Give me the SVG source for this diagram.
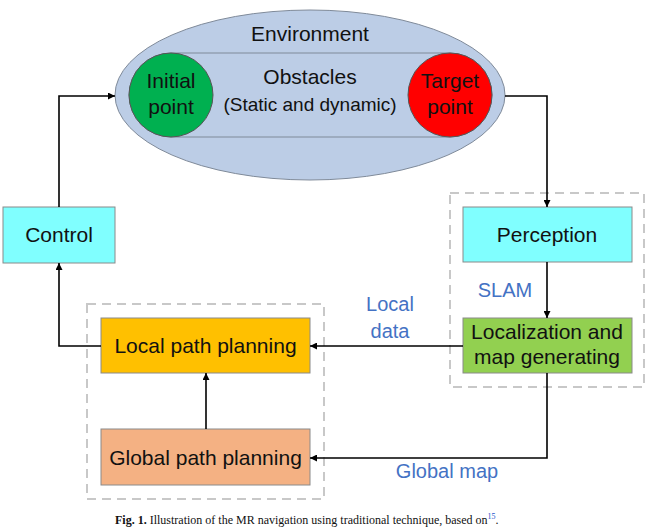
<svg xmlns="http://www.w3.org/2000/svg" width="649" height="529" viewBox="0 0 649 529">
<defs>
<marker id="arr" viewBox="0 0 10 10" refX="10" refY="5" markerWidth="7" markerHeight="7" markerUnits="userSpaceOnUse" orient="auto">
<path d="M0,0 L10,5 L0,10 z" fill="#000"/>
</marker>
<style>
.t{font-family:"Liberation Sans",Arial,sans-serif;font-size:21px;fill:#111;text-anchor:middle}
.b{font-family:"Liberation Sans",Arial,sans-serif;font-size:20px;fill:#4472C4;text-anchor:middle}
.box{stroke:#8a8a8a;stroke-width:1}
.grp{fill:none;stroke:#c8c8c8;stroke-width:2;stroke-dasharray:9,6}
.c{fill:none;stroke:#000;stroke-width:1.6}
.cap{font-family:"Liberation Serif","Times New Roman",serif;font-size:12px;fill:#111}
</style>
</defs>
<rect width="649" height="529" fill="#fff"/>
<g id="environment">
<ellipse cx="310" cy="95" rx="195" ry="85" fill="#BCCDE6" stroke="#7f8a99" stroke-width="1"/>
<text class="t" x="310" y="41">Environment</text>
</g>
<g id="obstacles">
<path d="M171,53 L450,53 A42,42 0 0 1 450,137 L171,137 A42,42 0 0 1 171,53 z" fill="#BCCDE6" stroke="#7f8a99" stroke-width="1"/>
<text class="t" x="310" y="84">Obstacles</text>
<text class="t" x="310" y="111" style="font-size:19px">(Static and dynamic)</text>
</g>
<g id="initial">
<circle cx="171" cy="95" r="42" fill="#00B050" stroke="#555" stroke-width="1"/>
<text class="t" x="171" y="88">Initial</text>
<text class="t" x="171" y="114">point</text>
</g>
<g id="target">
<circle cx="450" cy="95" r="42" fill="#FF0000" stroke="#555" stroke-width="1"/>
<text class="t" x="450" y="88">Target</text>
<text class="t" x="450" y="114">point</text>
</g>
<g id="groups">
<rect class="grp" x="450" y="193" width="194" height="194"/>
<rect class="grp" x="87" y="304" width="237" height="195"/>
</g>
<g id="control">
<rect class="box" x="3" y="207" width="112" height="56" fill="#80FFFF"/>
<text class="t" x="59" y="242">Control</text>
</g>
<g id="perception">
<rect class="box" x="463" y="207" width="169" height="55" fill="#80FFFF"/>
<text class="t" x="547" y="242">Perception</text>
</g>
<g id="localization">
<rect class="box" x="463" y="318" width="169" height="55" fill="#92D050"/>
<text class="t" x="547" y="339">Localization and</text>
<text class="t" x="547" y="364">map generating</text>
</g>
<g id="local">
<rect class="box" x="101" y="318" width="209" height="55" fill="#FFC000"/>
<text class="t" x="205.5" y="353">Local path planning</text>
</g>
<g id="global">
<rect class="box" x="101" y="429" width="209" height="56" fill="#F4B183"/>
<text class="t" x="205.5" y="465">Global path planning</text>
</g>
<g id="connectors">
<polyline class="c" points="59,207 59,96 115,96" marker-end="url(#arr)"/>
<polyline class="c" points="505,96 547,96 547,207" marker-end="url(#arr)"/>
<line class="c" x1="547" y1="262" x2="547" y2="318" marker-end="url(#arr)"/>
<line class="c" x1="463" y1="346" x2="310" y2="346" marker-end="url(#arr)"/>
<polyline class="c" points="547,373 547,458 310,458" marker-end="url(#arr)"/>
<line class="c" x1="206" y1="429" x2="206" y2="373" marker-end="url(#arr)"/>
<polyline class="c" points="101,346 59,346 59,263" marker-end="url(#arr)"/>
</g>
<g id="labels">
<text class="b" x="505" y="297">SLAM</text>
<text class="b" x="390" y="311">Local</text>
<text class="b" x="390" y="338">data</text>
<text class="b" x="447" y="478">Global map</text>
</g>
<g id="caption">
<text class="cap" x="115" y="524"><tspan font-weight="bold">Fig. 1.</tspan>  Illustration of the MR navigation using traditional technique, based on<tspan fill="#2255cc" font-size="8" dy="-5">15</tspan><tspan dy="5">.</tspan></text>
</g>
</svg>
